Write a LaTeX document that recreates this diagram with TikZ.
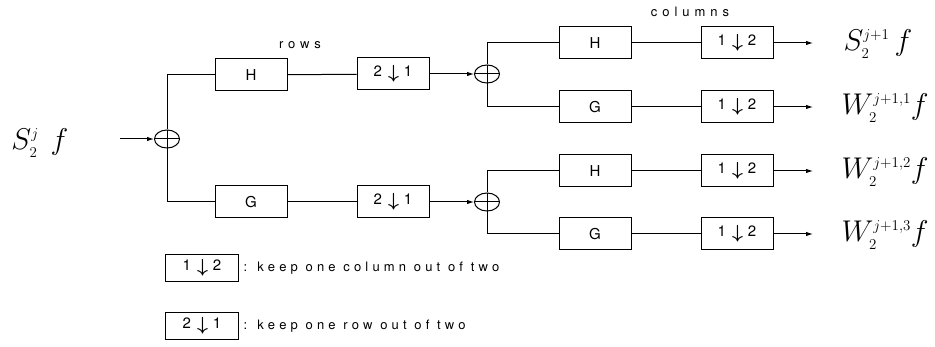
\documentclass[tikz,border=0pt]{standalone}
\usepackage{fix-cm}
\usepackage{amsmath}
\usepackage{fontspec}
\setsansfont{TeX Gyre Heros}
\newfontfamily\spacedsans[LetterSpace=38]{TeX Gyre Heros}
\newfontfamily\legendsans[LetterSpace=32]{TeX Gyre Heros}
\usetikzlibrary{arrows.meta,shapes.geometric}

\begin{document}
\begin{tikzpicture}[x=1pt,y=-1pt,
  line width=1pt,
  filt/.style={draw, minimum width=72pt, minimum height=32pt, inner sep=0pt,
    font=\sffamily\fontsize{15}{15}\selectfont},
  legbox/.style={filt, minimum width=73pt, minimum height=27pt},
  sumnode/.style={ellipse, draw, minimum width=25pt, minimum height=18pt, inner sep=0pt,
    path picture={
      \draw (path picture bounding box.north) -- (path picture bounding box.south);
      \draw (path picture bounding box.west) -- (path picture bounding box.east);}},
  sig/.style={font=\fontsize{30}{30}\selectfont, inner sep=0pt},
  caption/.style={font=\spacedsans\fontsize{13}{13}\selectfont},
  legtext/.style={font=\legendsans\fontsize{13}{13}\selectfont, anchor=west, inner sep=0pt},
  tip/.style={-{Latex[length=7pt,width=4.5pt]}}
]
\useasboundingbox (0,0) rectangle (935,347);

% downsampling operator: "a (down arrow) b"
\newcommand{\dsamp}[2]{#1\hspace{6pt}\raisebox{-2pt}{\fontsize{19}{19}\selectfont$\boldsymbol{\downarrow}$}\hspace{5pt}#2}
\newcommand{\sm}[1]{{\scriptscriptstyle #1}}

% input signal and first adder
\node[sig, anchor=west] (in) at (11,143) {$S_{\sm{2}}^{\sm{j}}\hspace{12pt}f$};
\coordinate (inarr) at (120,139);
\node[sumnode] (s1) at (167,139) {};

% row filtering stage
\node[filt] (h1) at (251,75) {H};
\node[filt] (g1) at (251,202) {G};
\node[filt] (r1) at (393,74) {\dsamp{2}{1}};
\node[filt] (r2) at (393,202) {\dsamp{2}{1}};
\node[caption] (rows) at (300,45) {rows};

% second adders
\node[sumnode] (s2) at (487,74) {};
\node[sumnode] (s3) at (487,202) {};

% column filtering stage
\node[filt] (h2) at (595,43) {H};
\node[filt] (g2) at (595,107) {G};
\node[filt] (h3) at (595,171) {H};
\node[filt] (g3) at (595,234) {G};
\node[filt] (c1) at (737,43) {\dsamp{1}{2}};
\node[filt] (c2) at (737,107) {\dsamp{1}{2}};
\node[filt] (c3) at (737,171) {\dsamp{1}{2}};
\node[filt] (c4) at (737,234) {\dsamp{1}{2}};
\node[caption] (cols) at (690,12) {columns};

% outputs
\coordinate (o1) at (813,43);
\coordinate (o2) at (813,107);
\coordinate (o3) at (813,171);
\coordinate (o4) at (813,234);
\node[sig, anchor=west] (l1) at (843,44) {$S_{\sm{2}}^{\sm{j+1}}\,f$};
\node[sig, anchor=west] (l2) at (841,108) {$W_{\sm{2}}^{\sm{j+1,1}}f$};
\node[sig, anchor=west] (l3) at (841,172) {$W_{\sm{2}}^{\sm{j+1,2}}f$};
\node[sig, anchor=west] (l4) at (841,235) {$W_{\sm{2}}^{\sm{j+1,3}}f$};

% legend
\node[legbox] (k1) at (202,268) {\dsamp{1}{2}};
\node[legbox] (k2) at (202,326) {\dsamp{2}{1}};
\node[legtext] (t1) at (243,268) {: keep one column out of two};
\node[legtext] (t2) at (243,326) {: keep one row out of two};

% connectors
\draw[tip] (inarr) -- (s1.west);
\draw (s1.north) |- (h1.west);
\draw (s1.south) |- (g1.west);
\draw (h1) -- (r1);
\draw (g1) -- (r2);
\draw[tip] (r1) -- (s2.west);
\draw[tip] (r2) -- (s3.west);
\draw (s2.north) |- (h2.west);
\draw (s2.south) |- (g2.west);
\draw (s3.north) |- (h3.west);
\draw (s3.south) |- (g3.west);
\draw (h2) -- (c1);
\draw (g2) -- (c2);
\draw (h3) -- (c3);
\draw (g3) -- (c4);
\draw[tip] (c1) -- (o1);
\draw[tip] (c2) -- (o2);
\draw[tip] (c3) -- (o3);
\draw[tip] (c4) -- (o4);
\end{tikzpicture}
\end{document}
